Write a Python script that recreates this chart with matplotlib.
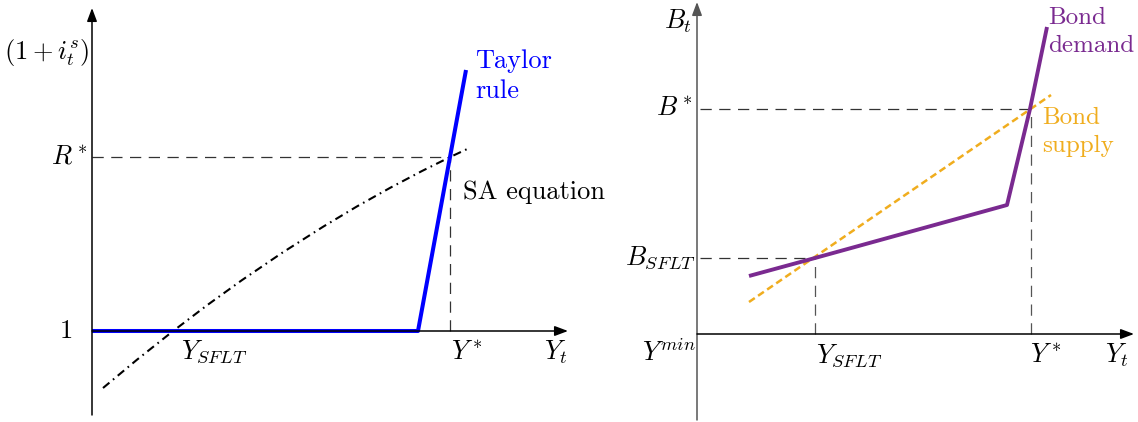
import matplotlib
matplotlib.use("Agg")
import matplotlib.pyplot as plt

plt.rcParams['font.family'] = ['cmr10', 'DejaVu Serif']
plt.rcParams['mathtext.fontset'] = 'cm'
plt.rcParams['axes.unicode_minus'] = False

# left panel (pixel-like units: x right from the y axis, y up from the x axis)
taylor_x = [0, 326, 374]
taylor_y = [0, 0, 261]
sa_x = [11, 45, 80, 115, 150, 190, 231, 265, 298, 330, 358, 378]
sa_y = [-57, -28.7, -0.9, 25.7, 50.9, 78.1, 104.2, 124.6, 143.1, 160.0, 173.9, 183.3]
r_star = 174
y_star_left = 358

# right panel
demand_x = [52, 118, 310, 333, 350]
demand_y = [58, 76, 129, 225, 307]
supply_x = [52, 354]
supply_y = [32, 239]
b_star = 225
b_sflt = 76
y_star_right = 334
y_sflt = 118

BLUE = '#0000ff'
PURPLE = '#7a2a90'
ORANGE = '#f0ad1e'
FS = 19

fig = plt.figure(figsize=(11.38, 4.22), dpi=100)

# both axes cover the whole figure, origin placed at the drawn axis crossing
axL = fig.add_axes([0, 0, 1, 1])
axL.set_xlim(-92, 1138 - 92)
axL.set_ylim(331 - 422, 331)
axR = fig.add_axes([0, 0, 1, 1])
axR.set_xlim(-697, 1138 - 697)
axR.set_ylim(334 - 422, 334)
for ax in (axL, axR):
    ax.axis('off')
    ax.patch.set_alpha(0)

arrow = dict(arrowstyle='-|>,head_length=0.8,head_width=0.3', lw=1.1, color='black',
             shrinkA=0, shrinkB=0)

# ---- left panel
axL.annotate('', xy=(0, 323), xytext=(0, -84), arrowprops=arrow)
axL.annotate('', xy=(476, 0), xytext=(0, 0), arrowprops=arrow)

axL.plot([0, y_star_left], [r_star, r_star], color='#333333', lw=0.9, dashes=(9, 6))
axL.plot([y_star_left, y_star_left], [0, r_star], color='#333333', lw=0.9, dashes=(9, 6))
axL.plot(sa_x, sa_y, color='black', lw=1.5, dashes=(4, 2.2, 0.8, 2.2))
axL.plot(taylor_x, taylor_y, color=BLUE, lw=2.9, solid_capstyle='butt')

axL.text(-3, 279, r'$(1+i_t^s)$', fontsize=FS, ha='right', va='center')
axL.text(-4, r_star, r'$R^*$', fontsize=FS, ha='right', va='center')
axL.text(-26, 0, r'$1$', fontsize=FS, ha='center', va='center')
axL.text(122, -21, r'$Y_{SFLT}$', fontsize=FS, ha='center', va='center')
axL.text(375, -21, r'$Y^*$', fontsize=FS, ha='center', va='center')
axL.text(464, -21, r'$Y_t$', fontsize=FS, ha='center', va='center')
axL.text(383, 282, 'Taylor\nrule', fontsize=FS, color=BLUE, ha='left', va='top',
         linespacing=1.35)
axL.text(371, 139, 'SA equation', fontsize=FS, ha='left', va='center')

# ---- right panel
axR.annotate('', xy=(0, 332), xytext=(0, -86),
             arrowprops=dict(arrow, color='#555555'))
axR.annotate('', xy=(437, 0), xytext=(0, 0), arrowprops=arrow)

axR.plot([3, y_star_right], [b_star, b_star], color='#333333', lw=0.9, dashes=(9, 6))
axR.plot([y_star_right, y_star_right], [0, b_star], color='#555555', lw=0.9, dashes=(9, 6))
axR.plot([3, y_sflt], [b_sflt, b_sflt], color='#333333', lw=0.9, dashes=(9, 6))
axR.plot([y_sflt, y_sflt], [0, b_sflt], color='#555555', lw=0.9, dashes=(9, 6))
axR.plot(supply_x, supply_y, color=ORANGE, lw=1.8, dashes=(2.8, 1.6))
axR.plot(demand_x, demand_y, color=PURPLE, lw=2.8, solid_capstyle='butt')

axR.text(-5, 313, r'$B_t$', fontsize=FS, ha='right', va='center')
axR.text(-5, b_star + 1, r'$B^*$', fontsize=FS, ha='right', va='center')
axR.text(-1, b_sflt, r'$B_{SFLT}$', fontsize=FS, ha='right', va='center')
axR.text(-1, -19, r'$Y^{min}$', fontsize=FS, ha='right', va='center')
axR.text(152, -22, r'$Y_{SFLT}$', fontsize=FS, ha='center', va='center')
axR.text(349, -21, r'$Y^*$', fontsize=FS, ha='center', va='center')
axR.text(420, -21, r'$Y_t$', fontsize=FS, ha='center', va='center')
axR.text(351, 327, 'Bond\ndemand', fontsize=18, color=PURPLE, ha='left', va='top',
         linespacing=1.35)
axR.text(345, 227, 'Bond\nsupply', fontsize=18, color=ORANGE, ha='left', va='top',
         linespacing=1.35)

fig.savefig('out.png', dpi=100)
